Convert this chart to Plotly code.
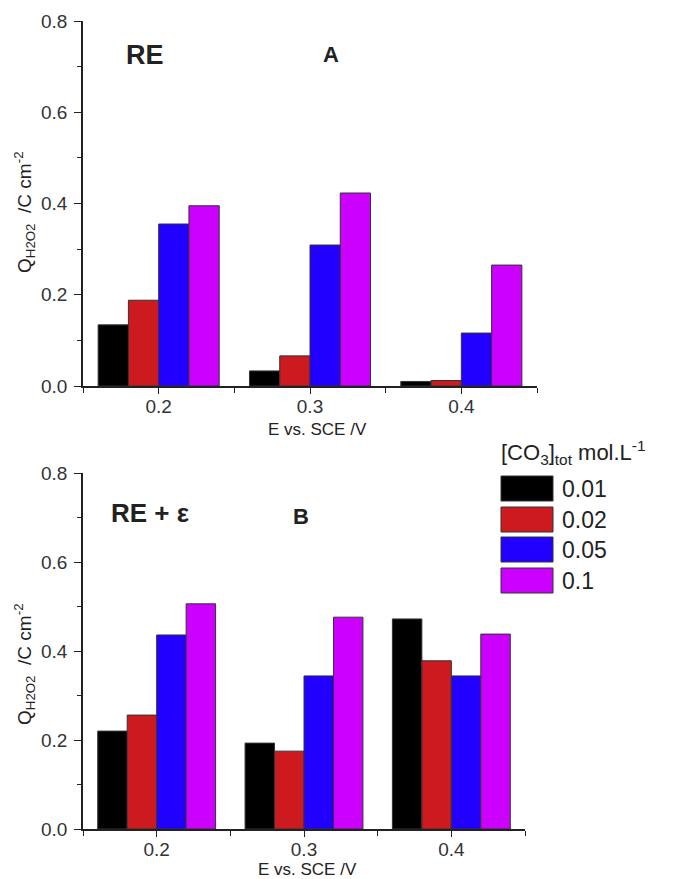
import plotly.graph_objects as go

# ---- data ----
potentials = [0.2, 0.3, 0.4]
tick_labels = ["0.2", "0.3", "0.4"]
series_names = ["0.01", "0.02", "0.05", "0.1"]
colors = ["#000000", "#cc1a1e", "#2200ff", "#cc00ff"]

panel_a_001 = [0.134, 0.033, 0.010]
panel_a_002 = [0.188, 0.066, 0.012]
panel_a_005 = [0.355, 0.309, 0.116]
panel_a_01 = [0.395, 0.423, 0.265]

panel_b_001 = [0.220, 0.193, 0.472]
panel_b_002 = [0.256, 0.175, 0.378]
panel_b_005 = [0.436, 0.344, 0.344]
panel_b_01 = [0.506, 0.476, 0.438]

panel_a = [panel_a_001, panel_a_002, panel_a_005, panel_a_01]
panel_b = [panel_b_001, panel_b_002, panel_b_005, panel_b_01]

# the page body has an 8px margin; work in window pixel coordinates
OFF = 8
W, H = 675 - OFF, 879 - OFF
FONT = "Liberation Sans, Arial, sans-serif"

def px(x):
    return (x - OFF) / W

def py(y):
    return 1 - (y - OFF) / H

fig = go.Figure()
for vals, name, col in zip(panel_a, series_names, colors):
    fig.add_trace(go.Bar(x=potentials, y=vals, name=name, marker=dict(color=col, line=dict(color="#333", width=1)),
                         xaxis="x", yaxis="y", showlegend=False))
for vals, name, col in zip(panel_b, series_names, colors):
    fig.add_trace(go.Bar(x=potentials, y=vals, name=name, marker=dict(color=col, line=dict(color="#333", width=1)),
                         xaxis="x2", yaxis="y2", showlegend=False))

xcommon = dict(range=[0.15, 0.45], tickvals=potentials, ticktext=tick_labels, ticks="outside", ticklen=6,
               tickwidth=1.3, tickcolor="#222", showline=True, linecolor="#222", linewidth=1.5,
               showgrid=False, zeroline=False, automargin=False, ticklabelstandoff=-4,
               tickfont=dict(family=FONT, size=19, color="#333"),
               minor=dict(tick0=0.15, dtick=0.05, ticks="outside", ticklen=5, tickcolor="#222", showgrid=False))
ycommon = dict(range=[0, 0.8], tickvals=[0, 0.2, 0.4, 0.6, 0.8], ticktext=["0.0", "0.2", "0.4", "0.6", "0.8"],
               ticks="outside", ticklen=7, tickwidth=1.3, tickcolor="#222", showline=True, linecolor="#222",
               linewidth=1.5, showgrid=False, zeroline=False, automargin=False, ticklabelstandoff=3,
               tickfont=dict(family=FONT, size=19, color="#333"),
               minor=dict(tick0=0, dtick=0.1, ticks="outside", ticklen=4, tickcolor="#222", showgrid=False))

fig.update_layout(
    width=W, height=H, margin=dict(l=0, r=0, t=0, b=0, autoexpand=False),
    paper_bgcolor="white", plot_bgcolor="white", showlegend=False,
    barmode="group", bargap=0.2, bargroupgap=0,
    xaxis=dict(domain=[px(83), px(537)], anchor="y", **xcommon),
    yaxis=dict(domain=[py(386), py(21)], anchor="x", **ycommon),
    xaxis2=dict(domain=[px(83), px(525)], anchor="y2", **xcommon),
    yaxis2=dict(domain=[py(829), py(473)], anchor="x2", **ycommon),
)

ann = []
def text(x, y, s, size, bold=False, xanchor="center", angle=0, color="#222"):
    ann.append(dict(x=px(x), y=py(y), xref="paper", yref="paper", text=("<b>%s</b>" % s) if bold else s,
                    showarrow=False, xanchor=xanchor, yanchor="middle", textangle=angle,
                    font=dict(family=FONT, size=size, color=color)))

# axis titles
ytitle = "Q<sub>H2O2</sub>  /C cm<sup>-2</sup>"
text(24, 212, ytitle, 19, angle=-90)
text(24, 664, ytitle, 19, angle=-90)
text(317, 429, "E vs. SCE /V", 17)
text(307, 869, "E vs. SCE /V", 17)

# panel labels
text(145, 55, "RE", 27, bold=True)
text(331, 55, "A", 22, bold=True)
text(150, 513, "RE + ε", 26, bold=True)
text(301, 516, "B", 22, bold=True)

# manual legend
text(499, 453, "[CO<sub>3</sub>]<sub>tot</sub> mol.L<sup>-1</sup>", 22, xanchor="left")
shapes = []
row_tops = [476, 507, 537, 568]
for top, name, col in zip(row_tops, series_names, colors):
    shapes.append(dict(type="rect", xref="paper", yref="paper", x0=px(501), x1=px(553), y0=py(top + 25), y1=py(top),
                       fillcolor=col, line=dict(color="#333", width=1)))
    text(560, top + 12.5, name, 23, xanchor="left")

fig.update_layout(annotations=ann, shapes=shapes)
fig.write_html("out.html")
